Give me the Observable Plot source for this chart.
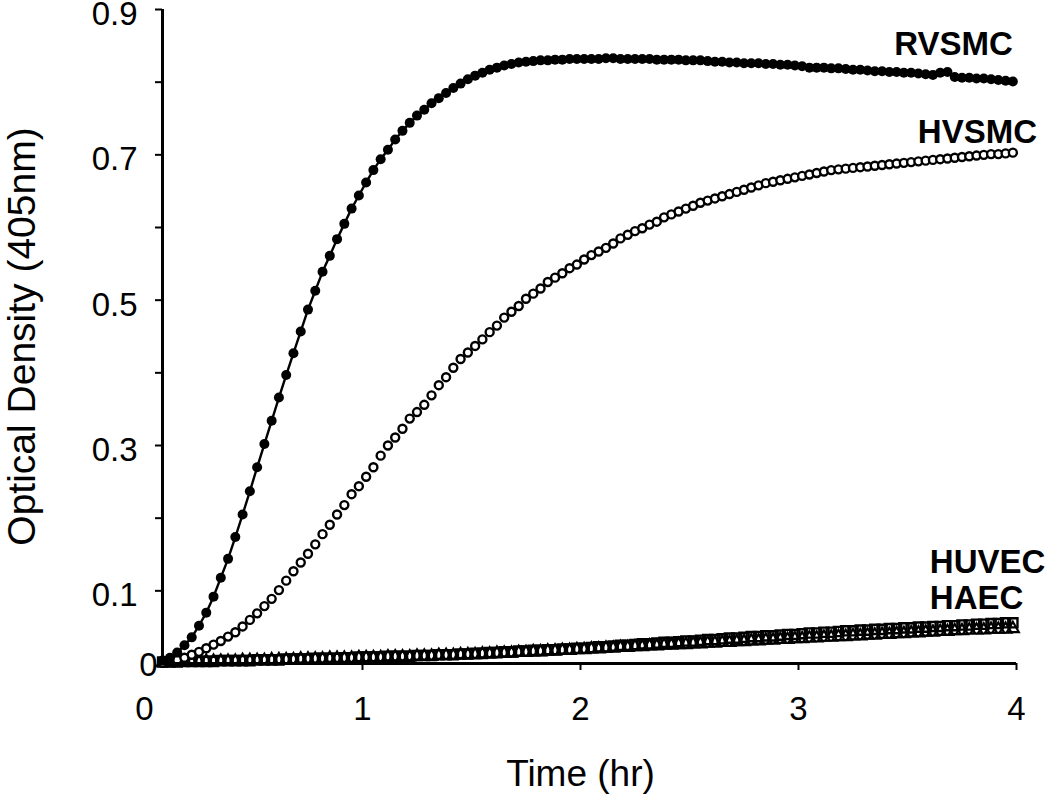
<!DOCTYPE html>
<html><head><meta charset="utf-8">
<script src="https://cdn.jsdelivr.net/npm/d3@7"></script>
<script src="https://cdn.jsdelivr.net/npm/@observablehq/plot@0.6"></script>
<style>body{margin:0;background:#fff} #chart svg{display:block}</style>
</head><body><div id="chart"></div>
<script>
// Sample times (minutes)
const minutes = [5,7,9,11,13,15,17,19,21,23,25,27,29,31,33,35,37,39,41,43,45,47,49,51,53,55,57,59,61,63,65,67,69,71,73,75,77,79,81,83,85,87,89,91,93,95,97,99,101,103,105,107,109,111,113,115,117,119,121,123,125,127,129,131,133,135,137,139,141,143,145,147,149,151,153,155,157,159,161,163,165,167,169,171,173,175,177,179,181,183,185,187,189,191,193,195,197,199,201,203,205,207,209,211,213,215,217,219,221,223,225,227,229,231,233,235,237,239];

const seriesNames = ["RVSMC", "HVSMC", "HUVEC", "HAEC"];

const rvsmc = [0.004,0.008,0.015,0.025,0.036,0.052,0.070,0.092,0.118,0.144,
0.174,0.205,0.237,0.270,0.302,0.334,0.366,0.397,0.427,0.457,
0.487,0.513,0.539,0.561,0.584,0.605,0.626,0.644,0.662,0.679,
0.694,0.707,0.721,0.733,0.744,0.754,0.762,0.771,0.778,0.785,
0.792,0.798,0.804,0.809,0.813,0.817,0.820,0.823,0.825,0.827,
0.828,0.829,0.830,0.830,0.831,0.831,0.832,0.832,0.832,0.832,
0.832,0.833,0.833,0.832,0.832,0.832,0.832,0.832,0.831,0.831,
0.831,0.831,0.830,0.830,0.830,0.829,0.828,0.828,0.827,0.827,
0.826,0.826,0.826,0.825,0.825,0.824,0.824,0.823,0.822,0.820,
0.820,0.820,0.819,0.819,0.818,0.817,0.817,0.816,0.815,0.815,
0.814,0.814,0.813,0.813,0.812,0.811,0.810,0.813,0.814,0.807,
0.806,0.806,0.805,0.805,0.804,0.803,0.802,0.801];

const hvsmc = [0.001,0.003,0.005,0.008,0.012,0.016,0.021,0.026,0.031,0.037,
0.043,0.051,0.060,0.069,0.079,0.089,0.101,0.114,0.127,0.139,
0.151,0.164,0.178,0.191,0.205,0.218,0.233,0.244,0.257,0.270,
0.286,0.300,0.311,0.323,0.337,0.346,0.356,0.369,0.383,0.394,
0.407,0.419,0.428,0.437,0.446,0.456,0.465,0.476,0.484,0.492,
0.502,0.509,0.516,0.525,0.531,0.537,0.544,0.549,0.556,0.562,
0.567,0.572,0.578,0.585,0.590,0.595,0.599,0.604,0.608,0.614,
0.618,0.622,0.626,0.630,0.634,0.637,0.640,0.643,0.646,0.649,
0.652,0.655,0.658,0.661,0.663,0.665,0.667,0.669,0.671,0.673,
0.675,0.677,0.679,0.680,0.681,0.682,0.683,0.684,0.685,0.686,
0.687,0.688,0.689,0.690,0.691,0.692,0.693,0.694,0.695,0.696,
0.697,0.698,0.699,0.700,0.701,0.701,0.702,0.703];

const huvec = [0.002,0.002,0.002,0.003,0.003,0.003,0.003,0.003,0.004,0.004,
0.004,0.004,0.004,0.005,0.005,0.005,0.005,0.006,0.006,0.006,
0.006,0.007,0.007,0.007,0.007,0.008,0.008,0.009,0.009,0.009,
0.009,0.010,0.010,0.010,0.010,0.011,0.011,0.011,0.012,0.012,
0.012,0.013,0.013,0.014,0.014,0.015,0.015,0.016,0.016,0.017,
0.017,0.018,0.018,0.019,0.019,0.020,0.020,0.021,0.021,0.022,
0.023,0.023,0.024,0.025,0.025,0.026,0.027,0.027,0.028,0.029,
0.029,0.030,0.031,0.031,0.032,0.033,0.033,0.034,0.035,0.035,
0.036,0.037,0.037,0.038,0.038,0.039,0.040,0.040,0.041,0.042,
0.042,0.043,0.043,0.044,0.045,0.045,0.046,0.046,0.047,0.047,
0.048,0.048,0.049,0.049,0.050,0.050,0.051,0.051,0.052,0.052,
0.053,0.053,0.054,0.054,0.055,0.055,0.056,0.056];

const haec = [0.001,0.001,0.002,0.002,0.002,0.002,0.003,0.003,0.003,0.003,
0.003,0.004,0.004,0.004,0.004,0.005,0.005,0.005,0.005,0.006,
0.006,0.006,0.006,0.007,0.007,0.007,0.007,0.008,0.008,0.008,
0.008,0.009,0.009,0.009,0.009,0.010,0.010,0.010,0.011,0.011,
0.011,0.012,0.012,0.012,0.013,0.013,0.014,0.014,0.014,0.015,
0.015,0.016,0.016,0.017,0.017,0.018,0.018,0.019,0.019,0.020,
0.020,0.021,0.021,0.022,0.022,0.023,0.023,0.024,0.024,0.025,
0.025,0.026,0.026,0.027,0.027,0.028,0.028,0.029,0.029,0.030,
0.030,0.031,0.031,0.032,0.032,0.033,0.033,0.034,0.034,0.035,
0.035,0.036,0.036,0.037,0.037,0.038,0.038,0.039,0.039,0.040,
0.040,0.041,0.041,0.042,0.042,0.043,0.043,0.044,0.044,0.045,
0.045,0.046,0.046,0.046,0.047,0.047,0.047,0.048];

const xTickMarks = [1, 2, 3, 4];
const xTickLabels = [0, 1, 2, 3, 4];
const yTickMarks = [0.1, 0.2, 0.3, 0.4, 0.5, 0.6, 0.7, 0.8, 0.9];
const yTickLabels = [0.1, 0.3, 0.5, 0.7, 0.9];
const yZeroLabel = [0];
const xTitle = "Time (hr)";
const yTitle = "Optical Density (405nm)";

// build tables
const toRows = (name, vals) => minutes.map((m, i) => ({series: name, t: m / 60, od: vals[i]}));
const R = toRows(seriesNames[0], rvsmc);
const H = toRows(seriesNames[1], hvsmc);
const U = toRows(seriesNames[2], huvec);
const A = toRows(seriesNames[3], haec);
const lastOf = s => [s[s.length - 1]];

const xDomain = [0.0826, 4];
const font = "'Liberation Sans', Arial, Helvetica, sans-serif";
const tickFont = 33;
const labelFont = 33;

const chart = Plot.plot({
  width: 1050, height: 800,
  marginLeft: 162, marginRight: 34, marginTop: 9, marginBottom: 137,
  style: {fontFamily: font, background: "white", color: "black", overflow: "visible"},
  x: {domain: xDomain, label: null},
  y: {domain: [0, 0.9], label: null},
  marks: [
    Plot.dot(A, {x: "t", y: "od", symbol: "triangle", r: 4.4, stroke: "black", strokeWidth: 2.2, fill: "none"}),
    Plot.dot(U, {x: "t", y: "od", symbol: "square", r: 5.2, stroke: "black", strokeWidth: 2.4, fill: "none"}),
    Plot.dot(H, {x: "t", y: "od", symbol: "circle", r: 4, stroke: "black", strokeWidth: 2.4, fill: "white"}),
    Plot.line(R, {x: "t", y: "od", stroke: "black", strokeWidth: 2.4}),
    Plot.dot(R, {x: "t", y: "od", r: 5, fill: "black", stroke: "none"}),
    // axis lines
    Plot.ruleX([xDomain[0]], {stroke: "black", strokeWidth: 3}),
    Plot.ruleY([0], {stroke: "black", strokeWidth: 3}),
    // ticks
    Plot.axisY({ticks: yTickMarks, tickSize: 7, strokeWidth: 2, tickFormat: () => "", label: null}),
    Plot.axisY({ticks: yTickLabels, tickSize: 0, tickPadding: 25, dy: 5, fontSize: tickFont, tickFormat: d => d.toFixed(1), label: null}),
    Plot.axisY({ticks: yZeroLabel, tickSize: 0, tickPadding: 5, dy: 2, fontSize: tickFont, tickFormat: d => String(d), label: null}),
    Plot.axisX({ticks: xTickMarks, tickSize: 7, strokeWidth: 2, tickFormat: () => "", label: null}),
    Plot.axisX({ticks: xTickLabels, tickSize: 0, tickPadding: 33, fontSize: tickFont, tickFormat: d => String(d), label: null}),
    // axis titles
    Plot.text([xTitle], {text: d => d, frameAnchor: "bottom", dx: -9, dy: 122, fontSize: 37}),
    Plot.text([yTitle], {text: d => d, frameAnchor: "left", textAnchor: "middle", rotate: -90, dx: -140, fontSize: 39}),
    // series labels
    Plot.text(lastOf(R), {x: "t", y: "od", text: "series", textAnchor: "end", lineAnchor: "bottom", dx: 0, dy: -26, fontSize: labelFont, fontWeight: "bold"}),
    Plot.text(lastOf(H), {x: "t", y: "od", text: "series", textAnchor: "start", lineAnchor: "bottom", dx: -95, dy: -10, fontSize: labelFont, fontWeight: "bold"}),
    Plot.text(lastOf(U), {x: "t", y: "od", text: "series", textAnchor: "start", lineAnchor: "bottom", dx: -83, dy: -50, fontSize: labelFont, fontWeight: "bold"}),
    Plot.text(lastOf(A), {x: "t", y: "od", text: "series", textAnchor: "start", lineAnchor: "bottom", dx: -83, dy: -20, fontSize: labelFont, fontWeight: "bold"})
  ]
});
document.getElementById("chart").appendChild(chart);
</script>
</body></html>
